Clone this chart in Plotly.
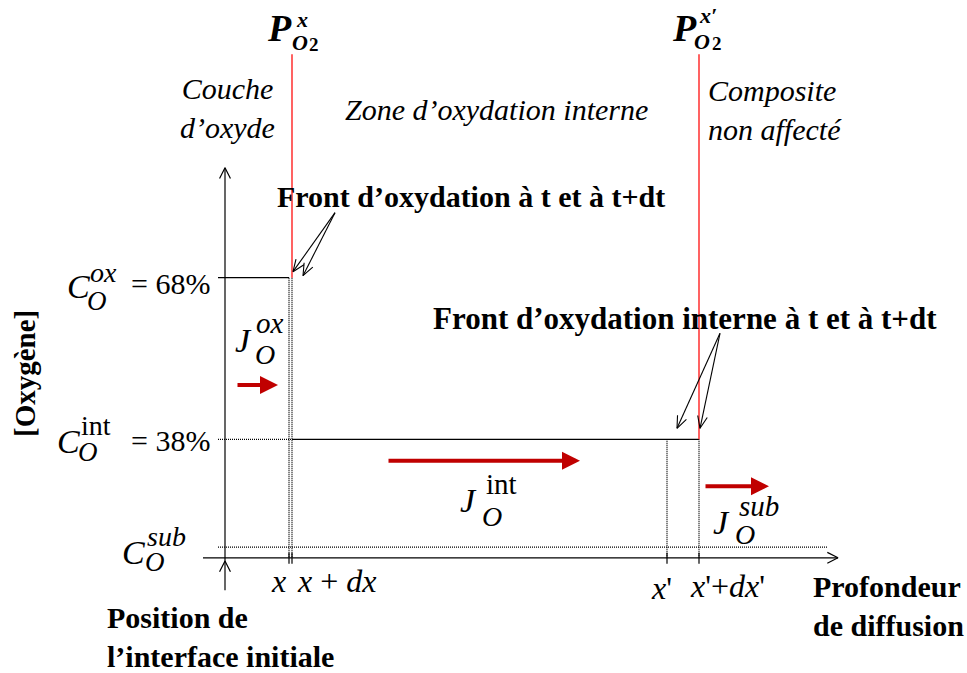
import math
import plotly.graph_objects as go

W, H = 967, 673

# ---------------- data (schematic values) ----------------
front_names = ["x", "x+dx", "x'", "x'+dx'"]
front_positions = [6.4, 6.7, 44.2, 47.4]          # depth (arbitrary units)
conc_names = ["ox", "int", "sub"]
conc_values = [68, 38, 18]                        # oxygen concentration (%) ; sub level schematic
conc_texts = ["= 68%", "= 38%", ""]
flux_names = ["ox", "int", "sub"]
flux_starts = [1.1, 16.2, 47.9]
flux_ends = [5.3, 35.5, 54.4]
flux_levels = [48.1, 34.0, 29.3]

# axis extents (data units)
AXIS_BASE = 16.0
Y_TOP = 88.4
Y_BOTTOM = 10.0
X_START = -2.2
X_END = 61.3
TICK_LEFT = -0.7
P_TOP = 109.5

# ---------------- scale helpers ----------------
X0, XS = 225.0, 10.0
Y38, YS = 439.3, 5.387


def to_px(x, y):
    return X0 + x * XS, Y38 - (y - 38) * YS


def to_data(px, py):
    return (px - X0) / XS, 38 + (Y38 - py) / YS


SERIF = "Liberation Serif, Times New Roman, serif"
RED = "#FF2020"
DARKRED = "#C00000"
DOT = "1px,1px"

fig = go.Figure()


def line(xs, ys, color="black", width=1.2, dash="solid"):
    fig.add_trace(go.Scatter(x=xs, y=ys, mode="lines",
                             line=dict(color=color, width=width, dash=dash),
                             hoverinfo="skip", showlegend=False))


def chevron(tip, origin, length=12, half=27, width=1.2):
    tx, ty = to_px(*tip)
    ox, oy = to_px(*origin)
    d = math.hypot(ox - tx, oy - ty)
    ux, uy = (ox - tx) / d, (oy - ty) / d
    pts = []
    for s in (1, -1):
        a = math.radians(half) * s
        rx = ux * math.cos(a) - uy * math.sin(a)
        ry = ux * math.sin(a) + uy * math.cos(a)
        pts.append(to_data(tx + rx * length, ty + ry * length))
    line([pts[0][0], tip[0], pts[1][0]], [pts[0][1], tip[1], pts[1][1]], width=width)


c_ox, c_int, c_sub = conc_values
x_a, x_b, x_c, x_d = front_positions

# axes
line([0, 0], [Y_BOTTOM, Y_TOP])
chevron((0, Y_TOP), (0, Y_BOTTOM))
chevron(to_data(225, 561), (0, Y_BOTTOM))
line([X_START, X_END], [AXIS_BASE, AXIS_BASE])
chevron((X_END, AXIS_BASE), (X_START, AXIS_BASE))

# concentration profile
line([TICK_LEFT, x_a], [c_ox, c_ox])
line([TICK_LEFT, x_b], [c_int, c_int], width=1.2, dash=DOT)
line([x_b, x_d], [c_int, c_int])
line([TICK_LEFT, X_END - 1], [c_sub, c_sub], width=1.2, dash=DOT)

# dotted verticals + ticks on the depth axis
for xv, ytop in [(x_a, c_ox), (x_b, c_ox), (x_c, c_int), (x_d, c_int)]:
    line([xv, xv], [ytop, AXIS_BASE], width=1.3, dash=DOT)
    t0 = to_data(0, to_px(0, AXIS_BASE)[1] - 5)[1]
    t1 = to_data(0, to_px(0, AXIS_BASE)[1] + 6)[1]
    line([xv, xv], [t0, t1], width=1.2)

# red fronts
line([x_b, x_b], [c_ox, P_TOP], color=RED, width=1.4)
line([x_d, x_d], [c_int, P_TOP], color=RED, width=1.4)


# callout arrows
def offset(pt, dx, dy):
    px, py = to_px(*pt)
    return to_data(px + dx, py + dy)


o1 = offset((x_b, c_ox), 43, -65)
for tip in [offset((x_b, c_ox), 1, -6), offset((x_b, c_ox), 11, -2)]:
    line([o1[0], tip[0]], [o1[1], tip[1]], width=1.1)
    chevron(tip, o1, length=13, half=22, width=1.1)
o2 = offset((x_d, c_int), 21, -106)
for tip in [offset((x_c, c_int), 10, -11), offset((x_d, c_int), 1, -11)]:
    line([o2[0], tip[0]], [o2[1], tip[1]], width=1.1)
    chevron(tip, o2, length=13, half=22, width=1.1)

annotations = []
# flux arrows
for xs, xe, yl in zip(flux_starts, flux_ends, flux_levels):
    annotations.append(dict(x=xe, y=yl, ax=xs, ay=yl, xref="x", yref="y", axref="x", ayref="y",
                            showarrow=True, arrowhead=2, arrowsize=0.9, arrowwidth=4,
                            arrowcolor=DARKRED, text=""))


def txt(px, py, text, size=30, xanchor="center", align="center", textangle=0, color="black"):
    annotations.append(dict(x=px / W, y=1 - py / H, xref="paper", yref="paper", text=text,
                            showarrow=False, xanchor=xanchor, yanchor="middle", align=align,
                            textangle=textangle, borderpad=0,
                            font=dict(family=SERIF, size=size, color=color)))


# top labels (partial pressures)
txt(279, 28, "<b><i>P</i></b>", 38)
txt(302, 19, "<b><i>x</i></b>", 22)
txt(300, 42, "<b><i>O</i></b>", 22)
txt(314, 45, "<b>2</b>", 19)
txt(684, 28, "<b><i>P</i></b>", 38)
txt(708, 15, "<b><i>x′</i></b>", 22)
txt(702, 41, "<b><i>O</i></b>", 22)
txt(717, 44, "<b>2</b>", 19)

txt(227, 108, "<i>Couche<br>d’oxyde</i>", 30)
txt(496, 110, "<i>Zone d’oxydation interne</i>", 30)
txt(707, 110, "<i>Composite<br>non affecté</i>", 30, xanchor="left", align="left")

txt(471, 196, "<b>Front d’oxydation à t et à t+dt</b>", 30)
txt(685, 318, "<b>Front d’oxydation interne à t et à t+dt</b>", 31)

txt(25, 374, "<b>[Oxygène]</b>", 29, textangle=-90)

# concentration labels
txt(78, 286, "<i>C</i>", 34)
txt(103, 272, "<i>ox</i>", 28)
txt(97, 301, "<i>O</i>", 27)
txt(170, 283, conc_texts[0], 30)
txt(68, 441, "<i>C</i>", 34)
txt(96, 425, "int", 28)
txt(88, 452, "<i>O</i>", 27)
txt(170, 440, conc_texts[1], 30)
txt(133, 552, "<i>C</i>", 34)
txt(166, 536, "<i>sub</i>", 28)
txt(155, 562, "<i>O</i>", 27)

# flux labels
txt(243, 340, "<i>J</i>", 34)
txt(270, 323, "<i>ox</i>", 29)
txt(265, 354, "<i>O</i>", 28)
txt(468, 500, "<i>J</i>", 34)
txt(501, 484, "int", 29)
txt(492, 516, "<i>O</i>", 28)
txt(721, 522, "<i>J</i>", 34)
txt(759, 506, "<i>sub</i>", 29)
txt(745, 534, "<i>O</i>", 28)

# depth labels
txt(278, 581, "<i>x</i>", 32)
txt(296, 581, "<i>x</i> + <i>dx</i>", 32, xanchor="left")
txt(661, 588, "<i>x</i>'", 32)
txt(689, 586, "<i>x</i>'+<i>dx</i>'", 32, xanchor="left")

txt(106, 637, "<b>Position de<br>l’interface initiale</b>", 30, xanchor="left", align="left")
txt(812, 606, "<b>Profondeur<br>de diffusion</b>", 30, xanchor="left", align="left")

x_lo, _ = to_data(0, 0)
x_hi, _ = to_data(W, 0)
_, y_hi = to_data(0, 0)
_, y_lo = to_data(0, H)

fig.update_layout(
    width=W, height=H, autosize=False,
    margin=dict(l=0, r=0, t=0, b=0, pad=0),
    paper_bgcolor="white", plot_bgcolor="white",
    xaxis=dict(range=[x_lo, x_hi], visible=False, fixedrange=True),
    yaxis=dict(range=[y_lo, y_hi], visible=False, fixedrange=True),
    showlegend=False, hovermode=False,
    annotations=annotations,
)

fig.write_html("out.html", config={"displayModeBar": False, "staticPlot": True},
               post_script="document.body.style.margin='0';document.body.style.overflow='hidden';")
